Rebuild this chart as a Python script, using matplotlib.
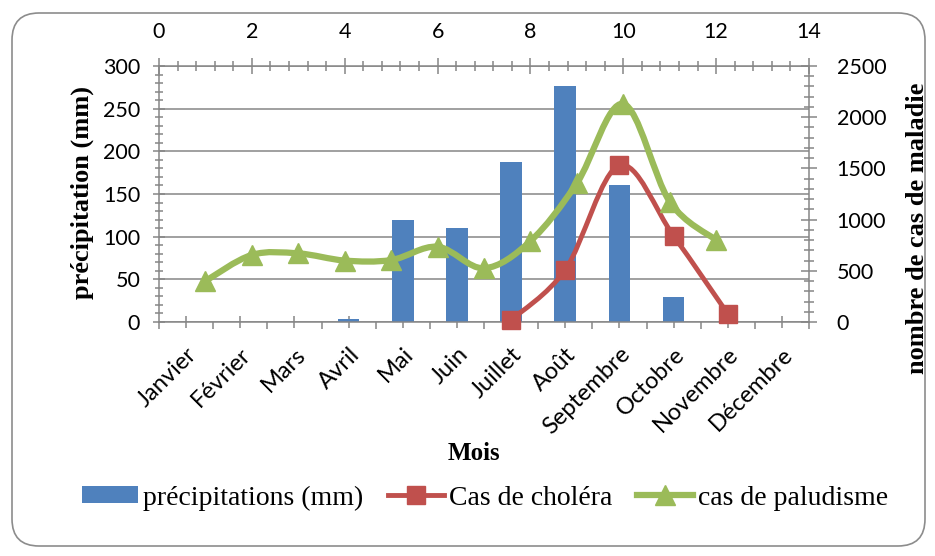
import numpy as np
import matplotlib.pyplot as plt
from matplotlib.path import Path
from matplotlib.patches import PathPatch, FancyBboxPatch, Patch
from matplotlib.lines import Line2D
from matplotlib.ticker import MultipleLocator, FixedLocator

# ------------------------------------------------------------------
# data
# ------------------------------------------------------------------
mois = ['Janvier', 'Février', 'Mars', 'Avril', 'Mai', 'Juin', 'Juillet',
        'Août', 'Septembre', 'Octobre', 'Novembre', 'Décembre']
precipitations = [0, 0, 0, 3, 120, 110, 188, 277, 160, 29, 0, 0]

# cholera is drawn on the month axis (Juillet .. Novembre)
cholera_mois = [6, 7, 8, 9, 10]
cholera_cas = [20, 510, 1530, 840, 80]

# malaria is drawn on the secondary x axis (0..14)
palu_x = [1, 2, 3, 4, 5, 6, 7, 8, 9, 10, 11, 12]
palu_cas = [400, 655, 670, 600, 605, 735, 525, 790, 1355, 2130, 1175, 800]

BLUE = '#4F81BD'
RED = '#C0504D'
GREEN = '#9BBB59'
GREY = '#868686'

TICK_FONT = 'Lato'
SERIF = 'Liberation Serif'


def smooth_path(x, y):
    """Excel-like smoothed line: cubic Bezier through every point."""
    pts = np.column_stack([x, y]).astype(float)
    n = len(pts)
    verts = [pts[0]]
    codes = [Path.MOVETO]
    for i in range(n - 1):
        p0 = pts[i - 1] if i > 0 else pts[i]
        p1 = pts[i]
        p2 = pts[i + 1]
        p3 = pts[i + 2] if i + 2 < n else pts[i + 1]
        verts += [p1 + (p2 - p0) / 6, p2 - (p3 - p1) / 6, p2]
        codes += [Path.CURVE4] * 3
    return Path(verts, codes)


fig = plt.figure(figsize=(9.35, 5.56), dpi=100)
fig.subplots_adjust(left=159 / 935, right=809 / 935,
                    top=1 - 66 / 556, bottom=1 - 322 / 556)
ax = fig.add_subplot(111)

# rounded chart frame
frame = FancyBboxPatch((0.12, 0.10), 9.13, 5.33,
                       boxstyle='round,pad=0,rounding_size=0.27',
                       transform=fig.dpi_scale_trans, facecolor='none',
                       edgecolor='#8c8c8c', linewidth=1.2, zorder=-10)
fig.patches.append(frame)

# bars: precipitation
xpos = np.arange(len(mois))
ax.bar(xpos, precipitations, width=0.4, color=BLUE, zorder=2)
ax.set_xlim(-0.5, len(mois) - 0.5)
ax.set_ylim(0, 300)
ax.yaxis.set_major_locator(MultipleLocator(50))
ax.yaxis.set_minor_locator(MultipleLocator(10))
ax.grid(axis='y', color=GREY, linewidth=1.1)
ax.set_axisbelow(True)

ax.set_xticks(xpos)
ax.set_xticklabels(mois, rotation=45, ha='right', rotation_mode='anchor',
                   fontfamily=TICK_FONT, fontsize=17)
ax.xaxis.set_minor_locator(FixedLocator(np.arange(-0.5, len(mois), 1.0)))
ax.tick_params(axis='x', which='major', direction='inout', length=9,
               color=GREY, width=1.1, pad=11)
ax.tick_params(axis='x', which='minor', direction='out', length=5,
               color=GREY, width=1.1)
ax.tick_params(axis='y', which='major', direction='inout', length=9,
               color=GREY, width=1.1, pad=9, labelsize=15.5)
ax.tick_params(axis='y', which='minor', direction='inout', length=6,
               color=GREY, width=1.1)
for lab in ax.get_yticklabels():
    lab.set_fontfamily(TICK_FONT)

# secondary y: cholera on the month axis
axr = ax.twinx()
axr.set_ylim(0, 2500)
axr.yaxis.set_major_locator(MultipleLocator(500))
axr.yaxis.set_minor_locator(MultipleLocator(100))
axr.tick_params(axis='y', which='major', direction='inout', length=12,
                color=GREY, width=1.1, pad=14, labelsize=15.5)
axr.tick_params(axis='y', which='minor', direction='inout', length=7,
                color=GREY, width=1.1)
for lab in axr.get_yticklabels():
    lab.set_fontfamily(TICK_FONT)
axr.add_patch(PathPatch(smooth_path(cholera_mois, cholera_cas), fill=False,
                        edgecolor=RED, linewidth=3.5, capstyle='round',
                        joinstyle='round', zorder=3))
axr.plot(cholera_mois, cholera_cas, linestyle='none', marker='s',
         markersize=13, color=RED, zorder=4, clip_on=False)

# secondary x on top: malaria
axg = axr.twiny()
axg.set_xlim(0, 14)
axg.xaxis.set_major_locator(MultipleLocator(2))
axg.xaxis.set_minor_locator(MultipleLocator(0.4))
axg.tick_params(axis='x', which='major', direction='inout', length=12,
                color=GREY, width=1.1, pad=11, labelsize=15.5)
axg.tick_params(axis='x', which='minor', direction='inout', length=7,
                color=GREY, width=1.1)
for lab in axg.get_xticklabels():
    lab.set_fontfamily(TICK_FONT)
axg.add_patch(PathPatch(smooth_path(palu_x, palu_cas), fill=False,
                        edgecolor=GREEN, linewidth=4.5, capstyle='round',
                        joinstyle='round', zorder=3))
axg.plot(palu_x, palu_cas, linestyle='none', marker='^', markersize=15,
         color=GREEN, zorder=4, clip_on=False)

# spines
for a in (ax, axr, axg):
    for s in a.spines.values():
        s.set_visible(False)
ax.spines['left'].set_visible(True)
ax.spines['bottom'].set_visible(True)
axr.spines['right'].set_visible(True)
axg.spines['top'].set_visible(True)
for s in (ax.spines['left'], ax.spines['bottom'],
          axr.spines['right'], axg.spines['top']):
    s.set_color(GREY)
    s.set_linewidth(1.1)

# axis titles
fig.text(82 / 935, 1 - 192 / 556, 'précipitation (mm)', rotation=90,
         ha='center', va='center', fontfamily=SERIF, fontweight='bold',
         fontsize=19)
fig.text(917 / 935, 1 - 228 / 556, 'nombre de cas de maladie', rotation=90,
         ha='center', va='center', fontfamily=SERIF, fontweight='bold',
         fontsize=19)
fig.text(474 / 935, 1 - 453 / 556, 'Mois', ha='center', va='center',
         fontfamily=SERIF, fontweight='bold', fontsize=18)

# legend
handles = [
    Patch(facecolor=BLUE, edgecolor='none', label='précipitations (mm)'),
    Line2D([], [], color=RED, linewidth=3.5, marker='s', markersize=13,
           label='Cas de choléra'),
    Line2D([], [], color=GREEN, linewidth=4.5, marker='^', markersize=15,
           label='cas de paludisme'),
]
fig.legend(handles=handles, loc='center', bbox_to_anchor=(485 / 935, 1 - 498 / 556),
           ncol=3, frameon=False, handlelength=2.0, handleheight=0.55,
           handletextpad=0.18, columnspacing=0.9,
           prop={'family': SERIF, 'size': 20})

fig.savefig('out.png', dpi=100)
plt.close(fig)
